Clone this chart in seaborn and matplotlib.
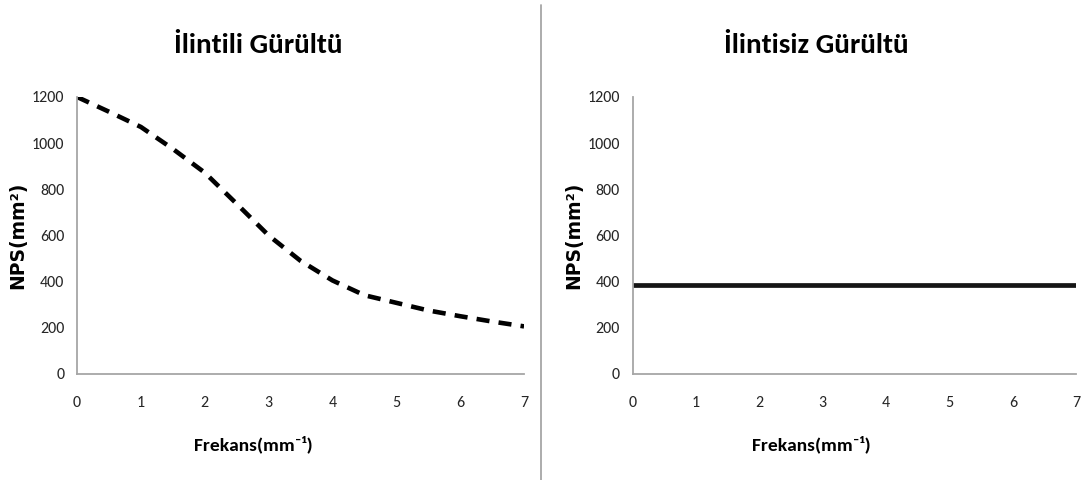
import matplotlib
matplotlib.use("Agg")
import matplotlib.pyplot as plt
from matplotlib import font_manager
from matplotlib.lines import Line2D
import seaborn as sns
import pandas as pd

# Spatial frequency samples (mm^-1)
frequency = [0.0, 0.5, 1.0, 1.5, 2.0, 2.5, 3.0, 3.5, 4.0, 4.5, 5.0, 5.5, 6.0, 6.5, 7.0]
# Correlated noise power spectrum (mm^2)
nps_correlated = [1200, 1136, 1070, 975, 872, 737, 600, 490, 405, 341, 308, 275, 250, 227, 206]
# Uncorrelated (white) noise power spectrum (mm^2)
nps_uncorrelated = [385] * len(frequency)

titles = ["İlintili Gürültü", "İlintisiz Gürültü"]
x_ticks = [0, 1, 2, 3, 4, 5, 6, 7]
y_ticks = [0, 200, 400, 600, 800, 1000, 1200]
x_label = "Frekans(mm⁻¹)"
y_label = "NPS(mm²)"

# Pick a Calibri-like narrow family if one is available
available = {f.name for f in font_manager.fontManager.ttflist}
preferred = ["Carlito", "Liberation Sans Narrow", "Open Sans Condensed", "Roboto Condensed",
             "Arimo", "Liberation Sans"]
main_font = next((f for f in preferred if f in available), "DejaVu Sans")
narrow = [main_font, "DejaVu Sans"]

sns.set_style("white")
plt.rcParams["font.family"] = narrow

df = pd.DataFrame({"freq": frequency, "corr": nps_correlated, "uncorr": nps_uncorrelated})

fig = plt.figure(figsize=(10.85, 4.8), dpi=100)
ax1 = fig.add_axes([0.071, 0.221, 0.412, 0.577])
ax2 = fig.add_axes([0.583, 0.221, 0.409, 0.577])

sns.lineplot(data=df, x="freq", y="corr", ax=ax1, color="black", linewidth=3.3,
             linestyle=(0, (2.85, 2.0)))
sns.lineplot(data=df, x="freq", y="uncorr", ax=ax2, color="#151515", linewidth=3.4)

title_x = [0.405, 0.413]
label_x = [0.394, 0.402]
for ax, title, tx, lx in zip([ax1, ax2], titles, title_x, label_x):
    ax.set_xlim(0, 7)
    ax.set_ylim(0, 1200)
    ax.set_xticks(x_ticks)
    ax.set_yticks(y_ticks)
    ax.set_xticklabels([str(v) for v in x_ticks], fontsize=11.5, family=narrow, color="#262626")
    ax.set_yticklabels([str(v) for v in y_ticks], fontsize=11.5, family=narrow, color="#262626")
    ax.tick_params(axis="both", length=0)
    ax.tick_params(axis="x", pad=16)
    ax.tick_params(axis="y", pad=9)
    for side in ["top", "right"]:
        ax.spines[side].set_visible(False)
    for side in ["left", "bottom"]:
        ax.spines[side].set_color("#a6a6a6")
        ax.spines[side].set_linewidth(1.3)
    ax.set_xlabel(x_label, fontsize=14, fontweight="bold", family=narrow, color="black")
    ax.xaxis.set_label_coords(lx, -0.256)
    ax.xaxis.label.set_va("center")
    ax.set_ylabel(y_label, fontsize=13.5, fontweight="bold", family="DejaVu Sans", color="black")
    ax.yaxis.set_label_coords(-0.132, 0.5)
    ax.yaxis.label.set_va("center")
    ax.text(tx, 1.188, title, transform=ax.transAxes, ha="center", va="center",
            fontsize=21, fontweight="bold", family=narrow, color="black")

# Divider between the two panels
fig.add_artist(Line2D([0.4986, 0.4986], [0.0, 0.99], transform=fig.transFigure,
                      color="#a6a6a6", linewidth=1.3))

fig.savefig("out.png", dpi=100, facecolor="white")
